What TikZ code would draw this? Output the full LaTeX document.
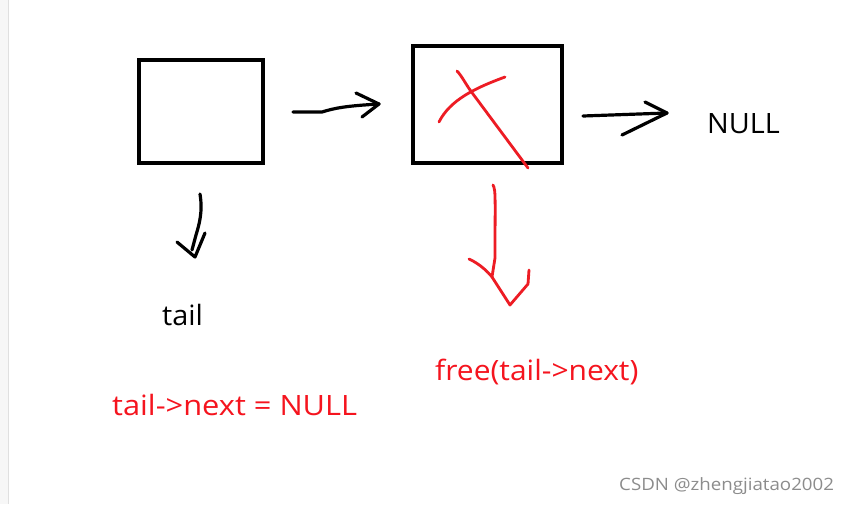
\documentclass[tikz,border=0pt]{standalone}
\usepackage{fontspec}
\setmainfont{Open Sans}
\definecolor{pred}{RGB}{237,28,36}
\definecolor{tred}{RGB}{245,20,30}
\tikzset{
  box/.style={draw=black,line width=4pt},
  pen/.style={line width=3.2pt,line cap=round,line join=round},
  rpen/.style={pen,draw=pred,line width=2.8pt},
  lbl/.style={inner sep=0pt,anchor=base west,font=\fontsize{28}{30}\selectfont},
}
\begin{document}
\begin{tikzpicture}[x=1pt,y=-1pt]
\useasboundingbox (0,0) rectangle (851,504);
\fill[white] (0,0) rectangle (851,504);
\fill[black!3] (0,0) rectangle (8,504);
\draw[black!12,line width=1pt] (8.5,0) -- (8.5,504);
% boxes
\draw[box] (139,60) rectangle (263,163);
\draw[box] (413,46) rectangle (562,163);
% arrow 1
\coordinate (a1s) at (293,112);
\coordinate (a1e) at (379,104);
\draw[pen] (a1s) -- (322,112) .. controls (335,108) and (345,106) .. (a1e);
\draw[pen] (356,93) -- (a1e) -- (362,117);
% arrow to NULL
\coordinate (a2s) at (583,116);
\coordinate (a2e) at (667,113);
\draw[pen] (a2s) -- (a2e);
\draw[pen] (645,102) -- (a2e) -- (622,135);
\node[lbl] (null) at (707,133) {\scalebox{1.03}[1]{NULL}};
% X mark
\draw[rpen] (457,71) .. controls (462,76) and (466,85) .. (473,94) -- (528,168);
\draw[rpen] (439,122) .. controls (450,100) and (475,88) .. (505,77);
% black down arrow
\coordinate (b1s) at (200,194);
\coordinate (b1e) at (195,257);
\draw[pen] (b1s) .. controls (203,212) and (199,225) .. (196,235) -- (192,250);
\draw[pen] (177,242) -- (b1e) -- (205,233);
\node[lbl] (tail) at (162,325) {\scalebox{1.03}[1]{tail}};
% red down arrow
\draw[rpen] (493,185) .. controls (496,190) and (495,200) .. (495,258) -- (492,277);
\draw[rpen] (469,259) .. controls (480,264) and (488,272) .. (492,277) -- (510,305) -- (528,284) -- (529,270);
% red texts
\node[lbl,text=tred] (t1) at (112,415) {\scalebox{1.1}[1]{tail->next = NULL}};
\node[lbl,text=tred] (t2) at (435,380) {\scalebox{1.07}[1]{free(tail->next)}};
% watermark
\node[inner sep=0pt,anchor=base west,text=black!45,font=\fontsize{17}{18}\selectfont] (wm) at (619,490) {\scalebox{1.1}[1]{CSDN @zhengjiatao2002}};
\end{tikzpicture}
\end{document}
